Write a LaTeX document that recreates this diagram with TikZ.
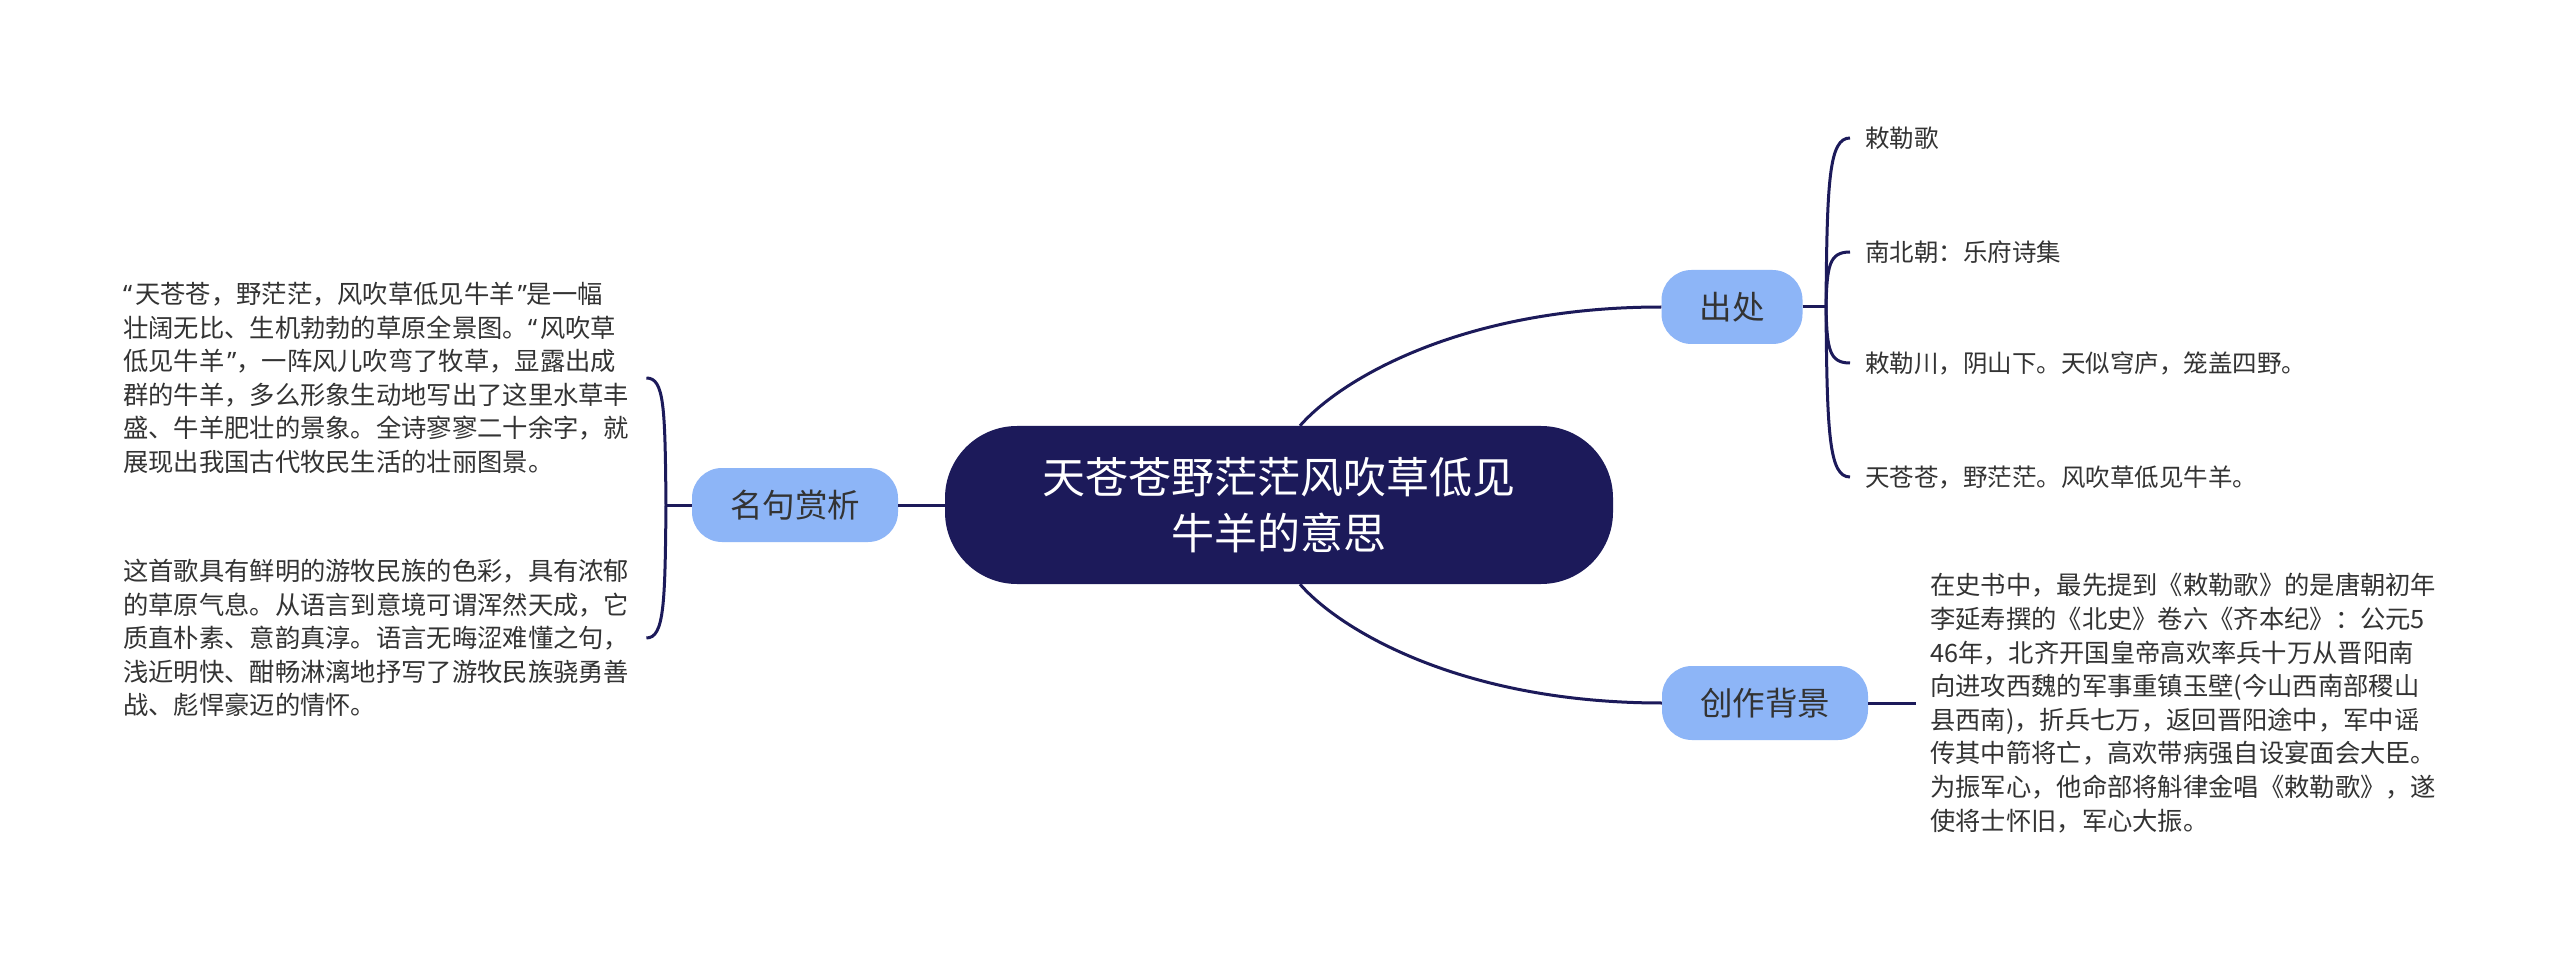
\documentclass[tikz,border=0pt]{standalone}
\usepackage{fontspec}
\newfontfamily\cjk{Noto Sans CJK SC}
\newfontfamily\lat{Noto Sans}
\newcommand{\myLq}{{\lat “}\hspace{3pt}}
\newcommand{\myRq}{\hspace{3pt}{\lat ”}}
\definecolor{navy}{HTML}{1C1A5A}
\definecolor{lblue}{HTML}{8DB5F7}
\definecolor{txt}{HTML}{333333}
\begin{document}
\begin{tikzpicture}[x=1pt,y=-1pt,
 conn/.style={draw=navy,line width=3pt},
 rootbox/.style={fill=navy,rounded corners=72pt,minimum width=668pt,minimum height=158pt,text=white,align=center,font=\cjk\fontsize{43}{56}\selectfont,inner sep=0pt},
 topic/.style={fill=lblue,rounded corners=30pt,minimum height=74pt,inner xsep=38pt,inner ysep=0pt,text=txt,font=\cjk\fontsize{32.5}{40}\selectfont},
 leaf/.style={anchor=west,inner xsep=15pt,inner ysep=0pt,text=txt,font=\cjk\fontsize{24.5}{33.5}\selectfont},
 para/.style={anchor=west,align=left,inner xsep=15pt,inner ysep=0pt,text=txt,font=\cjk\fontsize{25.3}{33.6}\selectfont}]
\useasboundingbox (0,0) rectangle (2560,957);
\fill[white] (0,0) rectangle (2560,957);
\node[rootbox] (root) at (1279,505) {天苍苍野茫茫风吹草低见\\牛羊的意思};
\node[topic] (n1) at (1732,307) {出处};
\node[topic] (n2) at (1765,703) {创作背景};
\node[topic] (n3) at (795,505) {名句赏析};
\coordinate (j1) at (1826,307);
\coordinate (j3) at (666,505);
\node[leaf] (l1) at (1850,138) {敕勒歌};
\node[leaf] (l2) at (1850,252) {南北朝：乐府诗集};
\node[leaf] (l3) at (1850,363) {敕勒川，阴山下。天似穹庐，笼盖四野。};
\node[leaf] (l4) at (1850,477) {天苍苍，野茫茫。风吹草低见牛羊。};
\node[para,text width=508pt] (p1) at (108,378) {\myLq 天苍苍，野茫茫，风吹草低见牛羊\myRq 是一幅\\壮阔无比、生机勃勃的草原全景图。\myLq 风吹草\\低见牛羊\myRq ，一阵风儿吹弯了牧草，显露出成\\群的牛羊，多么形象生动地写出了这里水草丰\\盛、牛羊肥壮的景象。全诗寥寥二十余字，就\\展现出我国古代牧民生活的壮丽图景。};
\node[para,text width=508pt] (p2) at (108,638) {这首歌具有鲜明的游牧民族的色彩，具有浓郁\\的草原气息。从语言到意境可谓浑然天成，它\\质直朴素、意韵真淳。语言无晦涩难懂之句，\\浅近明快、酣畅淋漓地抒写了游牧民族骁勇善\\战、彪悍豪迈的情怀。};
\node[para,text width=512pt,inner xsep=14pt] (p3) at (1916,703) {在史书中，最先提到《敕勒歌》的是唐朝初年\\李延寿撰的《北史》卷六《齐本纪》：公元5\\46年，北齐开国皇帝高欢率兵十万从晋阳南\\向进攻西魏的军事重镇玉壁(今山西南部稷山\\县西南)，折兵七万，返回晋阳途中，军中谣\\传其中箭将亡，高欢带病强自设宴面会大臣。\\为振军心，他命部将斛律金唱《敕勒歌》，遂\\使将士怀旧，军心大振。};
\draw[conn] (root.west) -- (n3.east);
\draw[conn] ([xshift=21pt]root.north) .. controls +(40,-46) and +(-200,0) .. (n1.west);
\draw[conn] ([xshift=21pt]root.south) .. controls +(40,46) and +(-200,0) .. (n2.west);
\draw[conn] (n1.east) -- (j1);
\draw[conn] (j1) .. controls +(1,-127) and +(-21,0) .. (l1.west);
\draw[conn] (j1) .. controls +(1,-41) and +(-21,0) .. (l2.west);
\draw[conn] (j1) .. controls +(1,42) and +(-21,0) .. (l3.west);
\draw[conn] (j1) .. controls +(1,127) and +(-21,0) .. (l4.west);
\draw[conn] (n2.east) -- (p3.west);
\draw[conn] (n3.west) -- (j3);
\draw[conn] (j3) .. controls +(-1,-98) and +(18,0) .. (p1.east);
\draw[conn] (j3) .. controls +(-1,98) and +(18,0) .. (p2.east);
\end{tikzpicture}
\end{document}
